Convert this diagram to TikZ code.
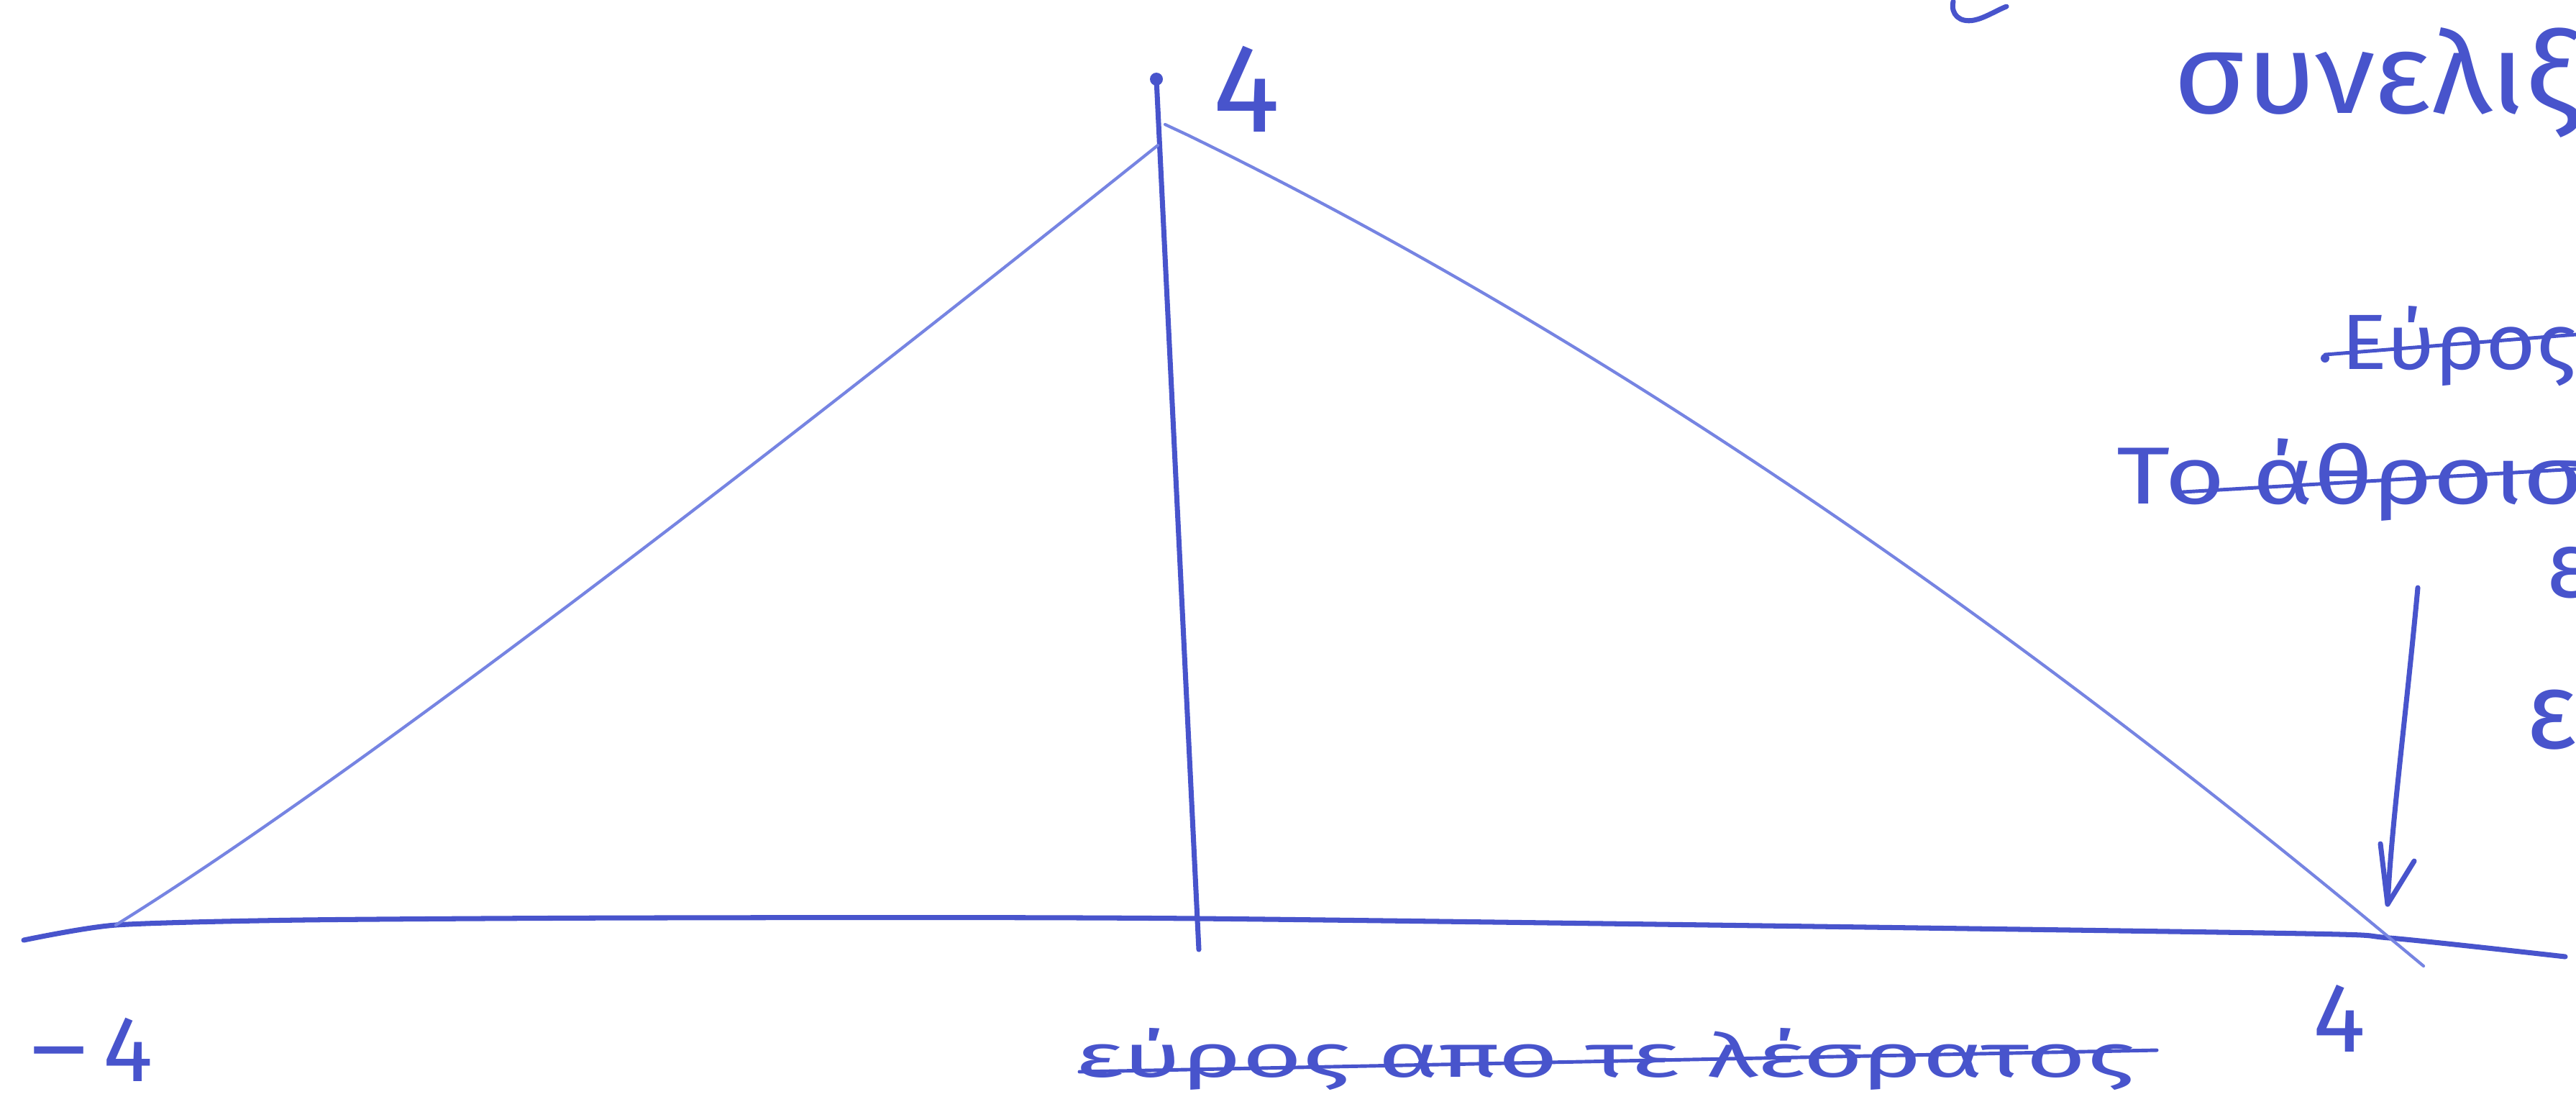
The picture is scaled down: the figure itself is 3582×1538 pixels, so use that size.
\documentclass[tikz,border=0pt]{standalone}
\usepackage{fontspec}
\setmainfont{Fira Sans}
\usepackage{graphicx}
\definecolor{ink}{RGB}{72,84,204}
\definecolor{inklight}{RGB}{118,132,226}
\tikzset{
  pen/.style={draw=ink, line width=2pt, line cap=round, line join=round},
  thinpen/.style={draw=inklight, line width=1.2pt, line cap=round, line join=round},
  strikepen/.style={draw=ink, line width=1.4pt, line cap=round},
  hw/.style={text=ink, inner sep=0pt, anchor=base west},
}
\begin{document}
\begin{tikzpicture}[x=0.01cm,y=-0.01cm]
\clip (0,0) rectangle (3582,1538);
\fill[white] (0,0) rectangle (3582,1538);

% axis
\coordinate (axL) at (33,1307);
\coordinate (axA) at (161,1286);
\coordinate (axB) at (420,1279);
\coordinate (axB2) at (900,1276);
\coordinate (axC) at (1667,1277);
\coordinate (axD) at (3150,1297);
\coordinate (axE) at (3323,1304);
\coordinate (axR) at (3567,1330);
\draw[pen] plot[smooth, tension=0.4] coordinates {(axL) (axA) (axB) (axB2) (axC) (axD) (axE) (axR)};

% vertical line
\coordinate (vT) at (1608,110);
\coordinate (vB) at (1667,1320);
\draw[pen] (vT) -- (vB);
\fill[ink] (vT) circle (9);

% triangle
\coordinate (lv) at (161,1286);
\coordinate (pkL) at (1610,202);
\coordinate (pkR) at (1620,173);
\coordinate (pkR2) at (1650,187);
\coordinate (rv) at (3323,1304);
\coordinate (rvEnd) at (3370,1343);
\draw[thinpen] (lv) .. controls (438,1114) and (921,753) .. (pkL);
\draw[thinpen] (pkR) -- (pkR2) .. controls (2177,443) and (2735,815) .. (rv) -- (rvEnd);

% arrow
\coordinate (arT) at (3362,817);
\coordinate (arTip) at (3320,1257);
\coordinate (barbL) at (3310,1173);
\coordinate (barbR) at (3357,1197);
\draw[pen] (arT) .. controls (3345,1000) and (3325,1150) .. (arTip);
\draw[pen] (barbL) -- (arTip) -- (barbR);

% top fragment
\coordinate (fA) at (2716,2);
\coordinate (fB) at (2745,28);
\coordinate (fC) at (2790,9);
\draw[pen] (fA) .. controls (2712,20) and (2725,32) .. (fB) .. controls (2760,25) and (2775,15) .. (fC);

% labels
\node[hw, font=\fontsize{50pt}{60pt}\selectfont] (ltop) at (1686,183) {4};
\node[hw, font=\fontsize{37pt}{44pt}\selectfont] (lneg) at (36,1503) {\scalebox{1.4}[1]{−}\kern0.12em 4};
\node[hw, font=\fontsize{39pt}{46pt}\selectfont] (lpos) at (3216,1462) {4};

% bottom struck text
\node[hw, font=\fontsize{24pt}{29pt}\selectfont] (bot) at (1495,1497) {\scalebox{1.7}[1]{εύρος απο τε λέσρατος}};
\coordinate (bsA) at (1501,1490);
\coordinate (bsB) at (2999,1460);
\draw[strikepen] (bsA) -- (bsB);

% top right
\node[hw, font=\fontsize{45pt}{54pt}\selectfont] (conv) at (3022,157) {\scalebox{1.08}[1]{συνελιξ}};

\fill[ink] (3233,498) circle (6);
\node[hw, font=\fontsize{31pt}{37pt}\selectfont] (eyros) at (3255,513) {\scalebox{1.1}[1]{Εύρος}};
\coordinate (esA) at (3233,493);
\coordinate (esB) at (3582,465);
\draw[strikepen] (esA) -- (esB);

\node[hw, font=\fontsize{32pt}{38pt}\selectfont] (athr) at (2943,700) {\scalebox{1.28}[1]{Το άθροισ}};
\coordinate (asA) at (3035,684);
\coordinate (asB) at (3582,652);
\draw[strikepen] (asA) -- (asB);

\node[hw, font=\fontsize{37pt}{44pt}\selectfont] (e1) at (3540,830) {ε};
\node[hw, font=\fontsize{43pt}{50pt}\selectfont] (e2) at (3512,1040) {ε};
\end{tikzpicture}
\end{document}
